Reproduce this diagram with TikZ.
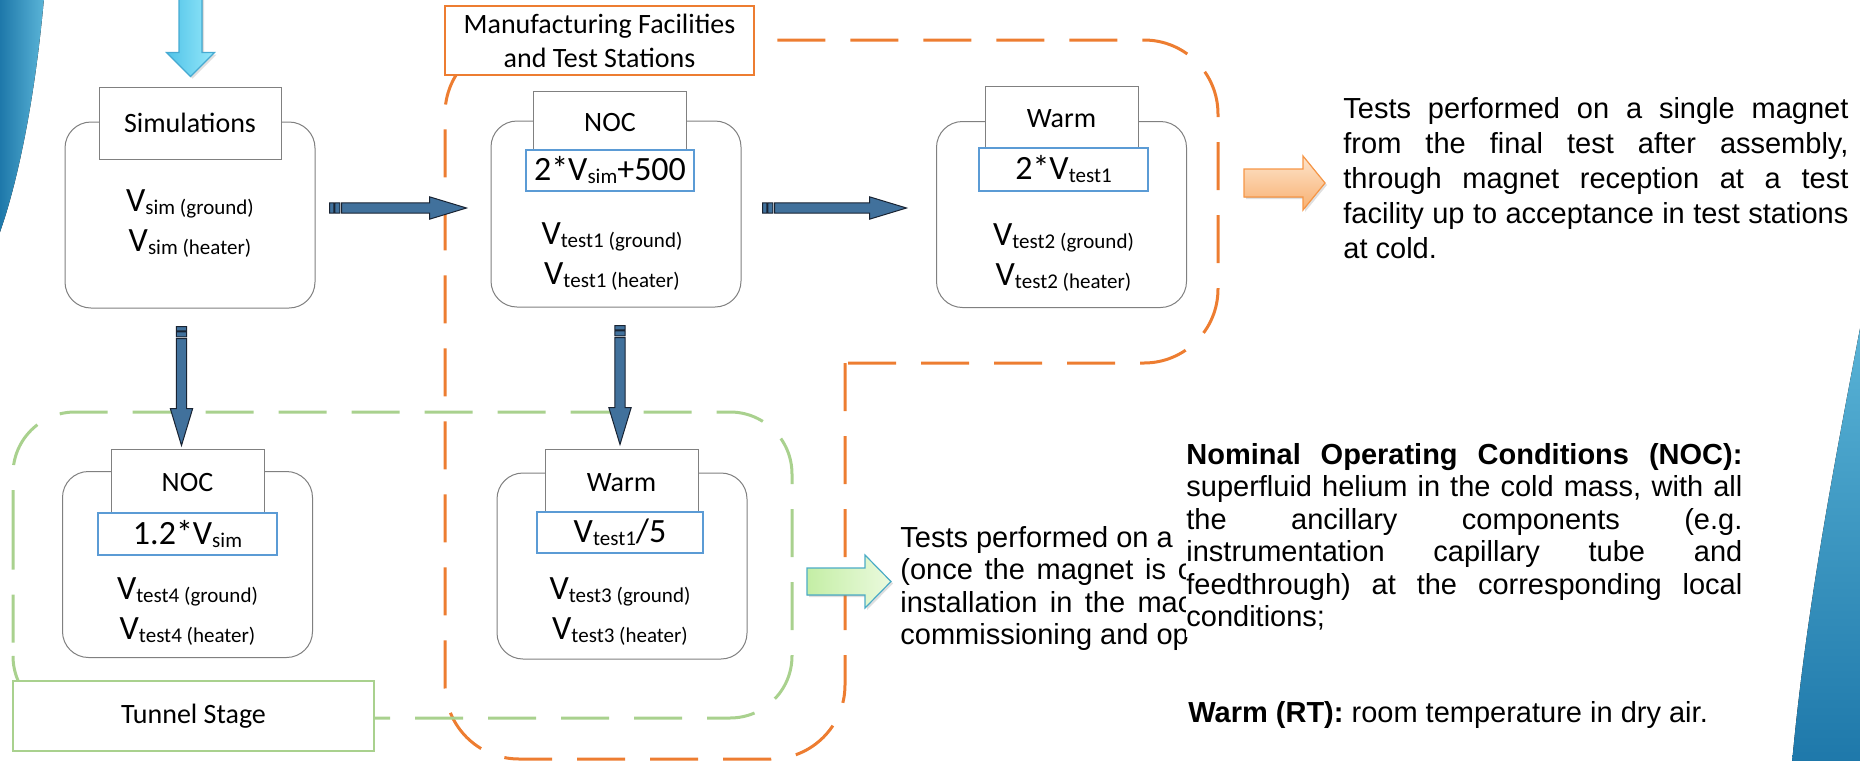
\documentclass[tikz,border=0pt]{standalone}
\usepackage{fontspec}
\setmainfont{Carlito}
\newfontfamily\arialfont{Liberation Sans}
\usetikzlibrary{positioning,calc,shadows}

\definecolor{boxgray}{RGB}{128,128,128}
\definecolor{formblue}{RGB}{91,155,213}
\definecolor{mfgorange}{RGB}{237,125,49}
\definecolor{tunnelgreen}{RGB}{169,209,142}
\definecolor{steelfill}{RGB}{65,113,156}
\definecolor{steelline}{RGB}{25,35,50}
\definecolor{skyA}{RGB}{80,195,232}
\definecolor{skyB}{RGB}{150,232,250}
\definecolor{skyline}{RGB}{70,170,210}
\definecolor{peachA}{RGB}{248,176,112}
\definecolor{peachB}{RGB}{253,228,204}
\definecolor{peachline}{RGB}{246,150,70}
\definecolor{limeA}{RGB}{196,238,165}
\definecolor{limeB}{RGB}{235,250,222}
\definecolor{limeline}{RGB}{75,172,198}
\definecolor{swooshA}{RGB}{30,120,170}
\definecolor{swooshB}{RGB}{90,180,215}

\newcommand{\Vlab}[1]{V\raisebox{-1.5pt}{\fontsize{10.5}{12}\selectfont #1}}

% block arrow from #2 to #3 (half shaft #4, half head #5, head length #6)
\newcommand{\blockarrow}[6][]{%
  \filldraw[#1] let \p1=(#2), \p2=(#3),
      \n1={atan2(\y2-\y1,\x2-\x1)}, \n2={veclen(\x2-\x1,\y2-\y1)} in
    {[shift={(\p1)},rotate=\n1]
    (0pt,-#4) -- ({\n2-#6},-#4) -- ({\n2-#6},-#5) -- ({\n2+0pt},0pt)
    -- ({\n2-#6},#5) -- ({\n2-#6},#4) -- (0pt,#4) -- cycle};}

% striped block arrow between two stages
\newcommand{\striparrow}[2]{%
  \filldraw[steelarrow] let \p1=(#1), \p2=(#2),
      \n1={atan2(\y2-\y1,\x2-\x1)}, \n2={veclen(\x2-\x1,\y2-\y1)} in
    {[shift={(\p1)},rotate=\n1]
    (0pt,-2.6pt) -- (2.2pt,-2.6pt) -- (2.2pt,2.6pt) -- (0pt,2.6pt) -- cycle
    (2.7pt,-2.6pt) -- (5.2pt,-2.6pt) -- (5.2pt,2.6pt) -- (2.7pt,2.6pt) -- cycle
    (6pt,-2.6pt) -- ({\n2-18.5pt},-2.6pt) -- ({\n2-18.5pt},-5.6pt) -- ({\n2+0pt},0pt)
    -- ({\n2-18.5pt},5.6pt) -- ({\n2-18.5pt},2.6pt) -- (6pt,2.6pt) -- cycle};}

\begin{document}
\begin{tikzpicture}[x=0.5pt, y=-0.5pt,
  stagebox/.style={draw=boxgray, line width=0.5pt, fill=white, rounded corners=13pt,
    minimum width=125pt, minimum height=93pt},
  tabbox/.style={draw=boxgray, line width=0.5pt, fill=white, minimum width=76.5pt,
    font=\fontsize{14}{17}\selectfont},
  formbox/.style={draw=formblue, line width=0.65pt, fill=white, inner sep=0pt,
    minimum height=20.5pt, font=\fontsize{17}{20}\selectfont},
  vlines/.style={align=center, inner sep=0pt, font=\fontsize{17}{20}\selectfont},
  stagelabel/.style={fill=white, line width=0.8pt, align=center, font=\fontsize{14}{17}\selectfont},
  zone/.style={dash pattern=on 24pt off 12.5pt, line width=1.5pt},
  steelarrow/.style={fill=steelfill, draw=steelline, line width=0.5pt},
  skyarrow/.style={left color=skyA, right color=skyB, draw=skyline, line width=0.6pt,
    drop shadow={opacity=0.25, shadow xshift=1pt, shadow yshift=-1pt}},
  peacharrow/.style={top color=peachB, bottom color=peachA, draw=peachline, line width=0.6pt,
    drop shadow={opacity=0.25, shadow xshift=1pt, shadow yshift=-1pt}},
  limearrow/.style={left color=limeA, right color=limeB, draw=limeline, line width=0.6pt,
    drop shadow={opacity=0.25, shadow xshift=1pt, shadow yshift=-1pt}},
  prose/.style={font=\arialfont\fontsize{14.5}{17.5}\selectfont, inner sep=0pt, anchor=north west},
  justified/.style={prose, align=justify},
  tight/.style={font=\arialfont\fontsize{14.5}{16.25}\selectfont}]

\useasboundingbox (0,0) rectangle (1860,761);

% slide swooshes
\fill[left color=swooshA, right color=swooshB] (0,-2) -- (44,-2) .. controls (34,110) and (15,190) .. (0,232) -- cycle;
\fill[top color=swooshB, bottom color=swooshA] (1862,318) .. controls (1835,460) and (1806,610) .. (1792,763) -- (1862,763) -- cycle;

% zones
\draw[zone, mfgorange, rounded corners=37pt] (845,363) -- (845,759) -- (445,759) -- (445,40)
  -- (1218,40) -- (1218,363) -- (845,363);
\draw[zone, tunnelgreen, rounded corners=31pt] (13,600) -- (13,412) -- (792,412) -- (792,718) -- (13,718) -- cycle;

% stages
\node[stagebox] (sim) at (190,215) {};
\node[tabbox, minimum width=91pt, minimum height=36pt] (simtab) at (190,123) {Simulations};
\node[vlines] (simv) at (190,224) {\Vlab{sim (ground)}\\\Vlab{sim (heater)}};

\node[stagebox] (noc1) at (616,214) {};
\node[tabbox, minimum height=32pt] (noc1tab) at (610,123) {NOC};
\node[formbox, minimum width=84pt] (noc1f) at (610,170.5) {2*\Vlab{sim}+500};
\node[vlines] (noc1v) at (612,257) {\Vlab{test1 (ground)}\\\Vlab{test1 (heater)}};

\node[stagebox] (warm1) at (1061.5,214.5) {};
\node[tabbox, minimum height=33pt] (warm1tab) at (1061.5,119) {Warm};
\node[formbox, minimum width=84.5pt, minimum height=21.5pt] (warm1f) at (1063.5,169.5) {2*\Vlab{test1}};
\node[vlines] (warm1v) at (1063.5,257.5) {\Vlab{test2 (ground)}\\\Vlab{test2 (heater)}};

\node[stagebox] (noc2) at (187.5,564.5) {};
\node[tabbox, minimum height=34pt] (noc2tab) at (187.5,483) {NOC};
\node[formbox, minimum width=89.5pt, minimum height=21pt] (noc2f) at (187.5,534) {1.2*\Vlab{sim}};
\node[vlines] (noc2v) at (187.5,611.5) {\Vlab{test4 (ground)}\\\Vlab{test4 (heater)}};

\node[stagebox] (warm2) at (622,566) {};
\node[tabbox, minimum height=33.5pt] (warm2tab) at (621.5,482.5) {Warm};
\node[formbox, minimum width=83pt] (warm2f) at (620,532.5) {\Vlab{test1}/5};
\node[vlines] (warm2v) at (620,611.5) {\Vlab{test3 (ground)}\\\Vlab{test3 (heater)}};

% zone labels
\node[stagelabel, draw=mfgorange, minimum width=154.5pt, minimum height=34.5pt] (mfglabel) at (599.5,40.5) {Manufacturing Facilities\\and Test Stations};
\node[stagelabel, draw=tunnelgreen, minimum width=180.5pt, minimum height=35pt] (tunnellabel) at (193.5,716) {Tunnel Stage};

% flow
\blockarrow[skyarrow]{$(simtab.north)+(0.5,-100)$}{$(simtab.north)+(0.5,-10)$}{5.75pt}{12pt}{12pt}
\striparrow{$(sim.east)+(14,-7)$}{$(noc1.west)+(-24,-6)$}
\striparrow{$(noc1.east)+(21,-6)$}{$(warm1.west)+(-29.5,-6.5)$}
\striparrow{$(sim.south)+(-8.5,18)$}{$(noc2tab.north)+(-6,-3)$}
\striparrow{$(noc1.south)+(4,18)$}{$(warm2tab.north)+(-1.5,-4)$}

% notes
\node[justified, text width=252.5pt] (upnote) at (1343,97)
  {Tests performed on a single magnet\linebreak from the final test after assembly,\linebreak
   through magnet reception at a test\linebreak facility up to acceptance in test stations\linebreak at cold.};
\blockarrow[peacharrow]{$(upnote.north west)+(-99,86)$}{$(upnote.north west)+(-18,86)$}{7pt}{13.5pt}{11pt}

\node[justified, tight, text width=146pt] (tunnelnote) at (900,526)
  {Tests performed on a\\ (once the magnet is c\linebreak installation in the mac\linebreak commissioning and op};
\blockarrow[limearrow]{$(tunnelnote.north west)+(-93,55.5)$}{$(tunnelnote.north west)+(-9,55.5)$}{6.75pt}{13.25pt}{13pt}

\node[justified, tight, text width=278pt, fill=white, inner ysep=3pt] (nocnote) at (1186,437)
  {\textbf{Nominal Operating Conditions (NOC):}\linebreak superfluid helium in the cold mass, with all\linebreak
   the ancillary components (e.g.\linebreak instrumentation capillary tube and\linebreak
   feedthrough) at the corresponding local\linebreak conditions;};
\node[prose, anchor=west] (warmnote) at (1188,715) {\textbf{Warm (RT):} room temperature in dry air.};
\end{tikzpicture}
\end{document}
